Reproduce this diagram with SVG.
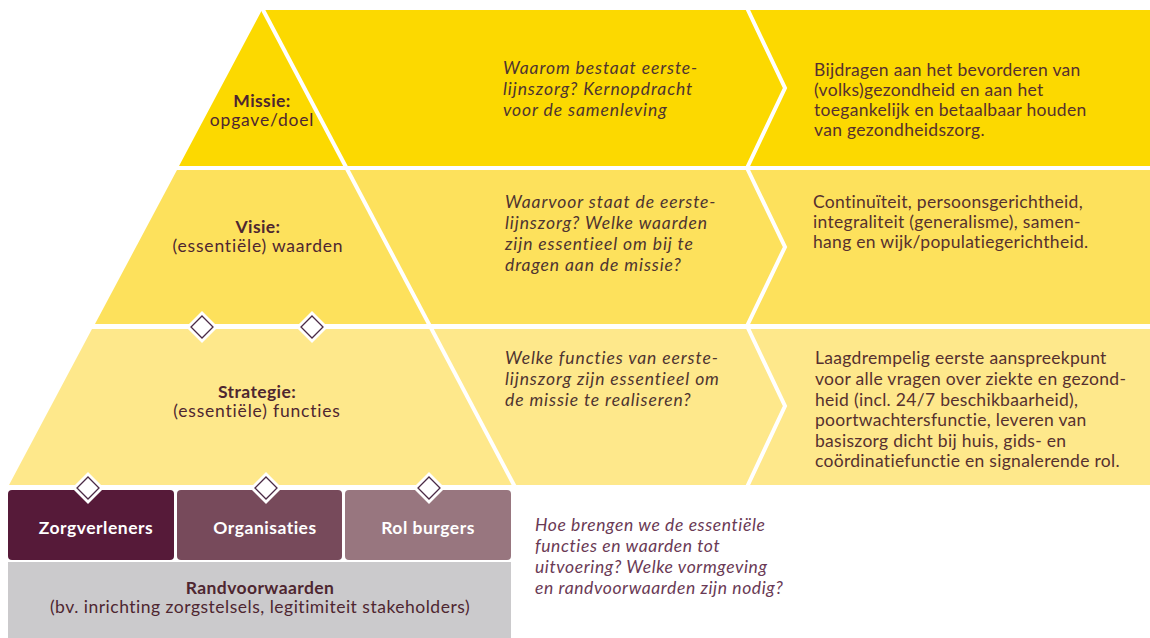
<svg xmlns="http://www.w3.org/2000/svg" width="1150" height="638" viewBox="0 0 1150 638">
  <style>
    .t { font-family: Lato, "Noto Sans", "Liberation Sans", sans-serif; font-size: 17.5px; letter-spacing: 0.3px; fill: #56302F; }
    .i { font-family: Lato, "Noto Sans", "Liberation Sans", sans-serif; font-size: 17.5px; letter-spacing: 0.9px; font-style: italic; fill: #4E3430; }
    .lb { font-family: Lato, "Noto Sans", "Liberation Sans", sans-serif; font-size: 17.5px; letter-spacing: 0.4px; font-weight: bold; fill: #4E2630; text-anchor: middle; }
    .lr { font-family: Lato, "Noto Sans", "Liberation Sans", sans-serif; font-size: 17.5px; letter-spacing: 0.8px; fill: #4E2630; text-anchor: middle; }
    .bx { font-family: Lato, "Noto Sans", "Liberation Sans", sans-serif; font-size: 17.5px; letter-spacing: 0.5px; font-weight: bold; fill: #FFFFFF; text-anchor: middle; }
    .q { font-family: Lato, "Noto Sans", "Liberation Sans", sans-serif; font-size: 17.5px; letter-spacing: 0.6px; font-style: italic; fill: #6A3A55; }
    .sep { fill: none; stroke: #FFFFFF; stroke-width: 4; stroke-linejoin: miter; }
    .dout { fill: #FFFFFF; }
    .din { fill: #FFFFFF; stroke: #4A2A45; stroke-width: 1.3; }
  </style>
  <defs>
    <g id="diamond">
      <polygon class="dout" points="0,-16 16,0 0,16 -16,0"/>
      <polygon class="din" points="0,-11 11,0 0,11 -11,0"/>
    </g>
  </defs>
  <rect width="1150" height="638" fill="#FFFFFF"/>

  <g id="band-missie">
    <polygon points="262,10 1150,10 1150,166 179,166" fill="#FCD900"/>
  </g>
  <g id="band-visie">
    <polygon points="177,170 1150,170 1150,324 95,324" fill="#FDE15C"/>
  </g>
  <g id="band-strategie">
    <polygon points="92,329 1150,329 1150,485 9,485" fill="#FEE88B"/>
  </g>

  <g id="connectors">
    <line class="sep" x1="262" y1="8" x2="515" y2="487"/>
    <polyline class="sep" points="747,8 785,88 747,168"/>
    <polyline class="sep" points="747,168 785,247 747,326"/>
    <polyline class="sep" points="747,326 785,406 747,487"/>
  </g>

  <g id="label-missie">
    <text class="lb" x="262" y="107">Missie:</text>
    <text class="lr" x="262" y="126">opgave/doel</text>
  </g>
  <g id="label-visie">
    <text class="lb" x="258" y="233">Visie:</text>
    <text class="lr" x="258" y="252">(essentiële) waarden</text>
  </g>
  <g id="label-strategie">
    <text class="lb" x="257" y="398">Strategie:</text>
    <text class="lr" x="257" y="417">(essentiële) functies</text>
  </g>

  <g id="question-missie">
    <text class="i" x="503" y="74">Waarom bestaat eerste-</text>
    <text class="i" x="503" y="95">lijnszorg? Kernopdracht</text>
    <text class="i" x="503" y="116">voor de samenleving</text>
  </g>
  <g id="question-visie">
    <text class="i" x="505" y="208">Waarvoor staat de eerste-</text>
    <text class="i" x="505" y="229">lijnszorg? Welke waarden</text>
    <text class="i" x="505" y="250">zijn essentieel om bij te</text>
    <text class="i" x="505" y="271">dragen aan de missie?</text>
  </g>
  <g id="question-strategie">
    <text class="i" x="505" y="364">Welke functies van eerste-</text>
    <text class="i" x="505" y="385">lijnszorg zijn essentieel om</text>
    <text class="i" x="505" y="406">de missie te realiseren?</text>
  </g>

  <g id="answer-missie">
    <text class="t" x="814" y="76">Bijdragen aan het bevorderen van</text>
    <text class="t" x="814" y="96">(volks)gezondheid en aan het</text>
    <text class="t" x="814" y="116">toegankelijk en betaalbaar houden</text>
    <text class="t" x="814" y="136">van gezondheidszorg.</text>
  </g>
  <g id="answer-visie">
    <text class="t" x="813" y="208">Continuïteit, persoonsgerichtheid,</text>
    <text class="t" x="813" y="228">integraliteit (generalisme), samen-</text>
    <text class="t" x="813" y="248">hang en wijk/populatiegerichtheid.</text>
  </g>
  <g id="answer-strategie">
    <text class="t" x="815" y="364">Laagdrempelig eerste aanspreekpunt</text>
    <text class="t" x="815" y="385">voor alle vragen over ziekte en gezond-</text>
    <text class="t" x="815" y="406">heid (incl. 24/7 beschikbaarheid),</text>
    <text class="t" x="815" y="426">poortwachtersfunctie, leveren van</text>
    <text class="t" x="815" y="447">basiszorg dicht bij huis, gids- en</text>
    <text class="t" x="815" y="467">coördinatiefunctie en signalerende rol.</text>
  </g>

  <g id="randvoorwaarden">
    <rect x="8" y="562" width="503" height="80" fill="#CBCACC"/>
    <text class="lb" x="260" y="594">Randvoorwaarden</text>
    <text class="lr" x="260" y="613" style="letter-spacing:0.5px">(bv. inrichting zorgstelsels, legitimiteit stakeholders)</text>
  </g>
  <g id="box-zorgverleners">
    <rect x="8" y="490" width="166" height="70" rx="4" fill="#561A39"/>
    <text class="bx" x="96" y="534">Zorgverleners</text>
  </g>
  <g id="box-organisaties">
    <rect x="177" y="490" width="165" height="70" rx="4" fill="#774A5B"/>
    <text class="bx" x="265" y="534">Organisaties</text>
  </g>
  <g id="box-rolburgers">
    <rect x="345" y="490" width="166" height="70" rx="4" fill="#98767F"/>
    <text class="bx" x="428" y="534">Rol burgers</text>
  </g>

  <g id="diamonds">
    <use href="#diamond" x="202" y="327"/>
    <use href="#diamond" x="312" y="327"/>
    <use href="#diamond" x="88" y="488"/>
    <use href="#diamond" x="266" y="488"/>
    <use href="#diamond" x="429" y="488"/>
  </g>

  <g id="question-uitvoering">
    <text class="q" x="535" y="531">Hoe brengen we de essentiële</text>
    <text class="q" x="535" y="552">functies en waarden tot</text>
    <text class="q" x="535" y="573">uitvoering? Welke vormgeving</text>
    <text class="q" x="535" y="594">en randvoorwaarden zijn nodig?</text>
  </g>
</svg>
